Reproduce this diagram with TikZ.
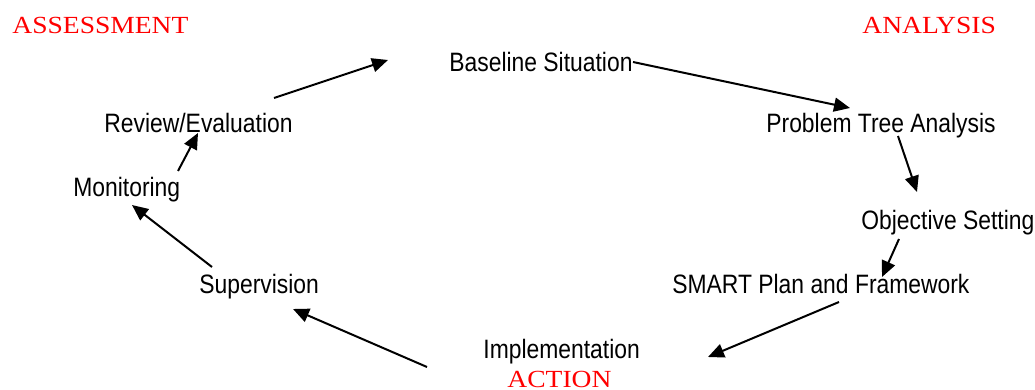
\documentclass[tikz,border=0pt]{standalone}
\usepackage{fontspec}
\setmainfont[FakeStretch=0.86]{Liberation Sans}
\newfontfamily\phasefont[FakeStretch=1.12]{Liberation Serif}
\usepackage{xcolor}
\usetikzlibrary{arrows.meta}
\definecolor{PhaseRed}{HTML}{FF0000}

\begin{document}
\begin{tikzpicture}[x=0.5pt,y=-0.5pt,
    stepnode/.style={anchor=base west,inner sep=0pt,font=\fontsize{13.3}{15}\selectfont},
    phase/.style={anchor=base west,inner sep=0pt,text=PhaseRed,font=\phasefont\fontsize{12.3}{14}\selectfont},
    flow/.style={-{Triangle[length=8pt,width=7pt]},line width=1pt},
    >=Stealth]
  \useasboundingbox (0,0) rectangle (1035,390);
  % phase labels
  \node[phase] (assess) at (12,34) {ASSESSMENT};
  \node[phase] (analysis) at (862,34) {ANALYSIS};
  \node[phase] (action) at (507,387) {ACTION};
  % cycle steps
  \node[stepnode] (base) at (449,72) {Baseline Situation};
  \node[stepnode] (tree) at (766,133) {Problem Tree Analysis};
  \node[stepnode] (obj) at (861,230) {Objective Setting};
  \node[stepnode] (smart) at (672,293) {SMART Plan and Framework};
  \node[stepnode] (impl) at (483,358) {Implementation};
  \node[stepnode] (sup) at (199,293) {Supervision};
  \node[stepnode] (mon) at (73,197) {Monitoring};
  \node[stepnode] (rev) at (104,133) {Review/Evaluation};
  % arrow ends
  \coordinate (rev-out) at (274,98);
  \coordinate (base-in) at (388,60);
  \coordinate (base-out) at (633,62);
  \coordinate (tree-in) at (850,108);
  \coordinate (tree-out) at (898,136);
  \coordinate (obj-in) at (917,192);
  \coordinate (obj-out) at (899,239);
  \coordinate (smart-in) at (882,277);
  \coordinate (smart-out) at (839,302);
  \coordinate (impl-in) at (708,357);
  \coordinate (impl-out) at (427,367);
  \coordinate (sup-in) at (293,309);
  \coordinate (sup-out) at (212,267);
  \coordinate (mon-in) at (132,205);
  \coordinate (mon-out) at (178,171);
  \coordinate (rev-in) at (198,133);
  \draw[flow] (rev-out) -- (base-in);
  \draw[flow] (base-out) -- (tree-in);
  \draw[flow] (tree-out) -- (obj-in);
  \draw[flow] (obj-out) -- (smart-in);
  \draw[flow] (smart-out) -- (impl-in);
  \draw[flow] (impl-out) -- (sup-in);
  \draw[flow] (sup-out) -- (mon-in);
  \draw[flow] (mon-out) -- (rev-in);
\end{tikzpicture}
\end{document}
